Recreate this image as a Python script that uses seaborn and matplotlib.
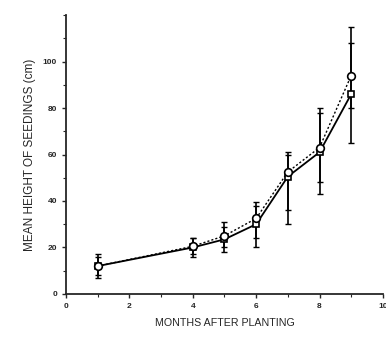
import matplotlib
matplotlib.use("Agg")
import matplotlib.pyplot as plt
import seaborn as sns
import pandas as pd
from matplotlib.ticker import MultipleLocator

months = [1, 4, 5, 6, 7, 8, 9]
sq_mean = [12, 20, 23.5, 30, 50.5, 61, 86]
sq_lo = [7, 16, 18, 20, 30, 43, 65]
sq_hi = [17, 24, 29, 38, 60, 78, 108]
ci_mean = [12, 20.5, 25, 32.5, 52.5, 63, 94]
ci_lo = [8, 17, 20, 24, 36, 48, 80]
ci_hi = [16, 24, 31, 39.5, 61, 80, 115]

sns.set_style("ticks")
plt.rcParams['font.family'] = ['Liberation Sans', 'DejaVu Sans']

df = pd.DataFrame({
    "month": months * 2,
    "height": sq_mean + ci_mean,
    "series": ["A"] * len(months) + ["B"] * len(months),
})

fig = plt.figure(figsize=(3.86, 3.43), dpi=100)
ax = fig.add_axes([0.171, 0.143, 0.821, 0.813])

sns.lineplot(data=df[df.series == "A"], x="month", y="height", ax=ax,
             color="black", lw=1.3, marker="s", markersize=5,
             markerfacecolor="white", markeredgecolor="black", markeredgewidth=1.2)
sns.lineplot(data=df[df.series == "B"], x="month", y="height", ax=ax,
             color="black", lw=1.0, linestyle=(0, (1.5, 1.5)), marker="o", markersize=5.5,
             markerfacecolor="white", markeredgecolor="black", markeredgewidth=1.2)

for mean, lo, hi in [(sq_mean, sq_lo, sq_hi), (ci_mean, ci_lo, ci_hi)]:
    yerr = [[m - l for m, l in zip(mean, lo)], [h - m for m, h in zip(mean, hi)]]
    ax.errorbar(months, mean, yerr=yerr, fmt="none",
                ecolor="black", elinewidth=1.2, capsize=2, capthick=1.0, zorder=1)

ax.set_xlim(0, 10)
ax.set_ylim(0, 120)
ax.xaxis.set_major_locator(MultipleLocator(2))
ax.xaxis.set_minor_locator(MultipleLocator(1))
ax.yaxis.set_minor_locator(MultipleLocator(10))
ax.set_yticks([0, 20, 40, 60, 80, 100])
ax.tick_params(axis="both", which="major", labelsize=6, length=3, width=1, direction="out")
ax.tick_params(axis="both", which="minor", length=2, width=0.8, direction="out")
for lab in ax.get_xticklabels() + ax.get_yticklabels():
    lab.set_fontweight("bold")
ax.set_xlabel("MONTHS AFTER PLANTING", fontsize=7.7, labelpad=6)
ax.set_ylabel("MEAN HEIGHT OF SEEDINGS (cm)", fontsize=8.5, labelpad=5)
for s in ["top", "right"]:
    ax.spines[s].set_visible(False)
for s in ["left", "bottom"]:
    ax.spines[s].set_linewidth(1.3)

fig.savefig("out.png", dpi=100)
